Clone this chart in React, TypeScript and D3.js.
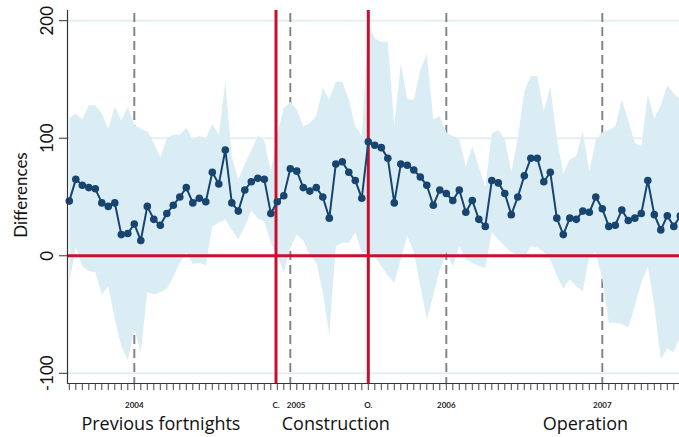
import { useRef, useEffect } from "react";
import * as d3 from "d3";

// fortnight index 0 = first fortnight in the series
const meanDiff = [
  46.5, 65, 60, 58, 57, 45, 42, 45, 18, 19, 27, 13, 42, 31, 26, 36, 43, 50, 58, 45,
  49, 46, 71, 61, 90, 45, 38, 56, 63, 66, 65, 36, 46, 51, 74, 72, 58, 55, 58, 50,
  32, 78, 80, 71, 64, 49, 97, 94, 92, 83, 45, 78, 77, 73, 67, 60, 43, 56, 53, 47,
  56, 37, 47, 31, 25, 64, 62, 53, 35, 50, 68, 83, 83, 63, 71, 32, 18, 32, 31, 38,
  37, 50, 40, 25, 26, 39, 30, 32, 36, 64, 35, 22, 34, 25, 34,
];
const upperCI = [
  117, 121, 116, 128, 128, 121, 108, 127, 115, 127, 111, 108, 106, 96, 84, 100, 103, 103, 109, 99,
  102, 100, 112, 103, 148, 84, 65, 78, 90, 102, 98, 72, 104, 126, 131, 124, 110, 113, 119, 143,
  133, 148, 148, 133, 110, 102, 196, 185, 182, 182, 110, 164, 133, 133, 158, 172, 116, 119, 105, 102,
  99, 76, 93, 76, 59, 104, 107, 99, 71, 100, 140, 153, 153, 123, 144, 100, 70, 82, 85, 106,
  72, 99, 105, 107, 110, 133, 115, 96, 93, 137, 117, 128, 145, 138, 133,
];
const lowerCI = [
  -23, 7, -9, -13, -14, -33, -26, -54, -77, -89, -62, -82, -31, -33, -31, -28, -18, -6, 3, -7,
  -6, -8, 25, 28, 31, 22, 14, 25, 38, 32, 29, 11, 0, -14, 7, 18, 13, 0, -6, -31,
  -67, 8, 11, 11, 20, 3, 3, 0, -9, -17, -23, -3, 17, 3, -26, -54, -34, -12, 3, -9,
  8, -3, -6, -9, -10, 20, 14, 8, 3, 1, -2, 8, 7, 3, -3, -17, -28, -20, -26, -30,
  0, 3, -20, -57, -57, -58, -61, -43, -23, -9, -43, -88, -79, -82, -68,
];

const yearTicks = [10, 34, 58, 82];
const yearLabels = ["2004", "2005", "2006", "2007"];
const eventTicks = [31.8, 46];
const eventLabels = ["C.", "O."];
const yTicks = [-100, 0, 100, 200];
const periodLabels = ["Previous fortnights", "Construction", "Operation"];
const periodCenters = [14.1, 41, 79.4];

export default function App() {
  const ref = useRef<SVGSVGElement>(null);

  useEffect(() => {
    const width = 679;
    const height = 437;
    const svg = d3.select(ref.current);
    svg.selectAll("*").remove();
    svg.attr("width", width).attr("height", height);

    const left = 67;
    const top = 10;
    const bottom = 383;

    const x = d3.scaleLinear().domain([0, 94]).range([69.3, 69.3 + 94 * 6.5]);
    const y = d3.scaleLinear().domain([-100, 200]).range([373.3, 20.7]);

    const data = meanDiff.map((m, i) => ({ i, m, lo: lowerCI[i], hi: upperCI[i] }));

    // light gridlines
    svg.append("g")
      .selectAll("line")
      .data(yTicks)
      .join("line")
      .attr("x1", left).attr("x2", width)
      .attr("y1", d => y(d)).attr("y2", d => y(d))
      .attr("stroke", "#e3eff4")
      .attr("stroke-width", 2);

    // dashed year lines
    svg.append("g")
      .selectAll("line")
      .data(yearTicks)
      .join("line")
      .attr("x1", d => x(d)).attr("x2", d => x(d))
      .attr("y1", 13).attr("y2", bottom)
      .attr("stroke", "#858585")
      .attr("stroke-width", 2)
      .attr("stroke-dasharray", "9,5");

    // confidence band
    const area = d3.area<any>()
      .x(d => x(d.i))
      .y0(d => y(d.lo))
      .y1(d => y(d.hi));
    svg.append("path")
      .datum(data)
      .attr("d", area)
      .attr("fill", "#daedf4");

    // red reference lines
    svg.append("line")
      .attr("x1", left).attr("x2", width)
      .attr("y1", y(0)).attr("y2", y(0))
      .attr("stroke", "#c8102e")
      .attr("stroke-width", 3);
    svg.append("g")
      .selectAll("line")
      .data(eventTicks)
      .join("line")
      .attr("x1", d => x(d)).attr("x2", d => x(d))
      .attr("y1", top).attr("y2", bottom)
      .attr("stroke", "#c8102e")
      .attr("stroke-width", 3);

    // series
    const line = d3.line<any>().x(d => x(d.i)).y(d => y(d.m));
    svg.append("path")
      .datum(data)
      .attr("d", line)
      .attr("fill", "none")
      .attr("stroke", "#17456f")
      .attr("stroke-width", 2);
    svg.append("g")
      .selectAll("circle")
      .data(data)
      .join("circle")
      .attr("cx", d => x(d.i))
      .attr("cy", d => y(d.m))
      .attr("r", 3.8)
      .attr("fill", "#17456f");

    // axes
    svg.append("line")
      .attr("x1", left + 0.5).attr("x2", left + 0.5)
      .attr("y1", top).attr("y2", bottom)
      .attr("stroke", "#333").attr("stroke-width", 1.2);
    svg.append("line")
      .attr("x1", left).attr("x2", width)
      .attr("y1", bottom + 0.5).attr("y2", bottom + 0.5)
      .attr("stroke", "#333").attr("stroke-width", 1.2);

    svg.append("g")
      .selectAll("line")
      .data(yTicks)
      .join("line")
      .attr("x1", 59).attr("x2", left)
      .attr("y1", d => y(d)).attr("y2", d => y(d))
      .attr("stroke", "#333");
    svg.append("g")
      .selectAll("text")
      .data(yTicks)
      .join("text")
      .attr("transform", d => `translate(46,${y(d)}) rotate(-90)`)
      .attr("text-anchor", "middle")
      .attr("dominant-baseline", "central")
      .attr("font-family", "Lato, sans-serif")
      .attr("font-size", 17)
      .attr("fill", "#111")
      .text(d => String(d));

    svg.append("text")
      .attr("transform", `translate(20,195) rotate(-90)`)
      .attr("text-anchor", "middle")
      .attr("dominant-baseline", "central")
      .attr("font-family", "Lato, sans-serif")
      .attr("font-size", 17)
      .attr("fill", "#111")
      .text("Differences");

    // minor fortnight ticks
    svg.append("g")
      .selectAll("line")
      .data(d3.range(0, 94))
      .join("line")
      .attr("x1", d => x(d)).attr("x2", d => x(d))
      .attr("y1", bottom).attr("y2", bottom + 7)
      .attr("stroke", "#444");

    const tickLabels = [
      ...yearTicks.map((t, k) => ({ t: k === 1 ? t + 0.9 : t, s: yearLabels[k] })),
      ...eventTicks.map((t, k) => ({ t, s: eventLabels[k] })),
    ];
    svg.append("g")
      .selectAll("text")
      .data(tickLabels)
      .join("text")
      .attr("x", d => x(d.t))
      .attr("y", 408)
      .attr("text-anchor", "middle")
      .attr("font-family", "Lato, sans-serif")
      .attr("font-weight", "bold")
      .attr("font-size", 8)
      .attr("fill", "#222")
      .text(d => d.s);

    svg.append("g")
      .selectAll("text")
      .data(periodLabels)
      .join("text")
      .attr("x", (d, k) => x(periodCenters[k]))
      .attr("y", 430)
      .attr("text-anchor", "middle")
      .attr("font-family", "'Open Sans', sans-serif")
      .attr("font-size", 18)
      .attr("fill", "#111")
      .text(d => d);
  }, []);

  return (
    <div style={{ position: "absolute", left: 0, top: 0, background: "#fff" }}>
      <svg ref={ref} style={{ display: "block" }} />
    </div>
  );
}
